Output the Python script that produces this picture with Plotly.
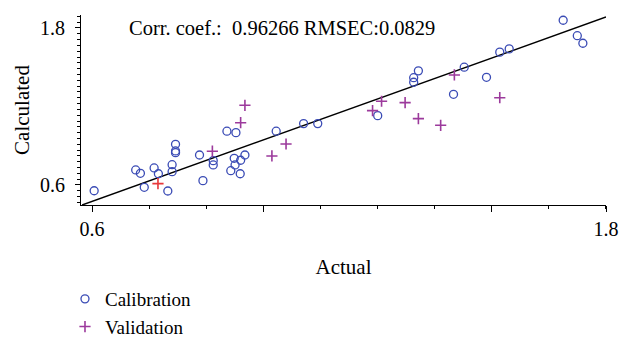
import plotly.graph_objects as go

# Calibration set (Actual, Calculated)
cal_actual = [0.605, 0.702, 0.713, 0.722, 0.745, 0.755, 0.777, 0.787, 0.787, 0.795,
              0.795, 0.795, 0.851, 0.859, 0.883, 0.883, 0.915, 0.936, 0.924, 0.932,
              0.934, 0.947, 0.946, 0.957, 1.030, 1.094, 1.127, 1.267, 1.351, 1.351,
              1.362, 1.444, 1.469, 1.521, 1.552, 1.574, 1.700, 1.733, 1.746]
cal_calc = [0.556, 0.715, 0.689, 0.582, 0.730, 0.686, 0.554, 0.755, 0.702, 0.911,
            0.860, 0.847, 0.829, 0.633, 0.786, 0.753, 1.011, 1.000, 0.709, 0.804,
            0.753, 0.789, 0.686, 0.829, 1.011, 1.069, 1.069, 1.130, 1.420, 1.385,
            1.472, 1.293, 1.500, 1.423, 1.615, 1.640, 1.859, 1.741, 1.683]

# Validation set
val_actual = [0.957, 0.947, 0.881, 1.020, 1.053, 1.255, 1.276, 1.331, 1.362, 1.414, 1.446, 1.552]
val_calc = [1.209, 1.076, 0.858, 0.822, 0.913, 1.168, 1.240, 1.229, 1.107, 1.056, 1.441, 1.267]

# Highlighted validation sample (red)
out_actual = [0.754]
out_calc = [0.610]

# Regression line
fit_x = [0.577, 1.8]
fit_y = [0.447, 1.884]

x_tickvals = [0.6, 1.0, 1.5333, 1.8]
x_ticktext = ["0.6", "", "", "1.8"]
y_tickvals = [0.6, 1.8]
y_ticktext = ["0.6", "1.8"]

SERIF = "Liberation Serif"

fig = go.Figure()
fig.add_trace(go.Scatter(x=fit_x, y=fit_y, mode="lines",
                         line=dict(color="black", width=1.4), showlegend=False, hoverinfo="skip"))
fig.add_trace(go.Scatter(x=cal_actual, y=cal_calc, mode="markers", name="Calibration",
                         marker=dict(symbol="circle-open", size=8, color="#3a4bb5",
                                     line=dict(width=1.3, color="#3a4bb5"))))
fig.add_trace(go.Scatter(x=val_actual, y=val_calc, mode="markers", name="Validation",
                         marker=dict(symbol="cross-thin-open", size=8, color="#9c3a9c",
                                     line=dict(width=1.6, color="#9c3a9c"))))
fig.add_trace(go.Scatter(x=out_actual, y=out_calc, mode="markers", showlegend=False,
                         marker=dict(symbol="cross-thin-open", size=8, color="#e8383a",
                                     line=dict(width=1.6, color="#e8383a"))))

fig.add_annotation(text="Corr. coef.:  0.96266 RMSEC:0.0829", xref="paper", yref="paper",
                   x=0.383, y=0.9316, xanchor="center", yanchor="middle", showarrow=False,
                   font=dict(family=SERIF, size=20.5, color="black"))

fig.update_layout(
    width=619, height=337,
    margin=dict(l=81, r=13, t=15, b=132, autoexpand=False),
    plot_bgcolor="white", paper_bgcolor="white",
    font=dict(family=SERIF, size=20, color="black"),
    xaxis=dict(range=[0.5743, 1.8], showgrid=False, zeroline=False, showline=True,
               linecolor="black", linewidth=1, ticks="outside", ticklen=6, tickcolor="black",
               tickvals=x_tickvals, ticktext=x_ticktext, automargin=False,
               tickfont=dict(family=SERIF, size=20),
               minor=dict(ticks="outside", ticklen=3, tick0=0.6, dtick=0.13333, tickcolor="black", showgrid=False),
               title=dict(text="Actual", standoff=20, font=dict(family=SERIF, size=21))),
    yaxis=dict(range=[0.447, 1.899], showgrid=False, zeroline=False, showline=True,
               linecolor="black", linewidth=1, ticks="outside", ticklen=5, tickcolor="black",
               tickvals=y_tickvals, ticktext=y_ticktext, automargin=False,
               tickfont=dict(family=SERIF, size=20), ticklabelstandoff=6,
               minor=dict(ticks="outside", ticklen=3, tick0=0.6, dtick=0.044444, tickcolor="black", showgrid=False),
               title=dict(text="Calculated", standoff=4, font=dict(family=SERIF, size=21))),
    legend=dict(x=-0.0305, y=-0.3947, xanchor="left", yanchor="top", bgcolor="rgba(0,0,0,0)",
                font=dict(family=SERIF, size=19), tracegroupgap=0, itemsizing="trace"),
    showlegend=True,
)

fig.write_html("out.html")
